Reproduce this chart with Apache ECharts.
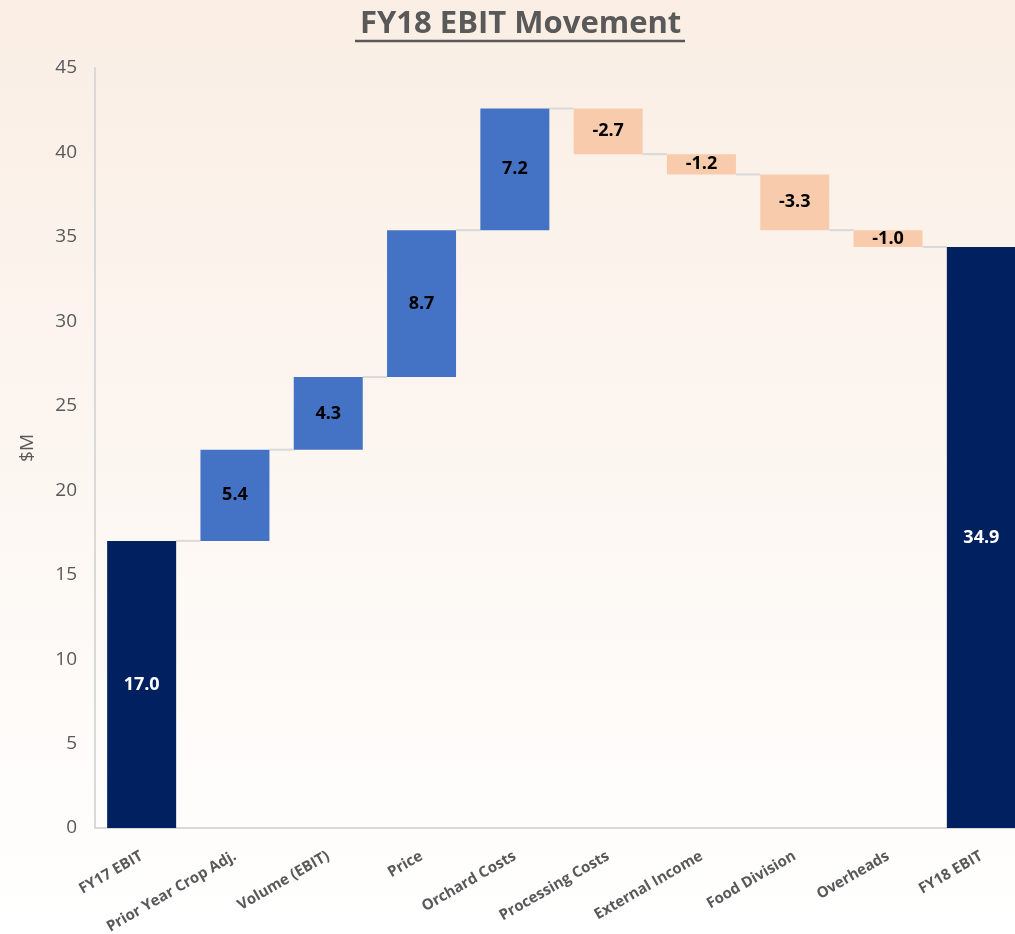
<!DOCTYPE html>
<html>
<head>
<meta charset="utf-8">
<script src="https://cdn.jsdelivr.net/npm/echarts@6/dist/echarts.min.js"></script>
<style>
  html, body { margin: 0; padding: 0; }
  #chart { width: 1015px; height: 934px; }
</style>
</head>
<body>
<div id="chart"></div>
<script>
// categories and movements ($M)
const categories = ['FY17 EBIT', 'Prior Year Crop Adj.', 'Volume (EBIT)', 'Price', 'Orchard Costs',
  'Processing Costs', 'External Income', 'Food Division', 'Overheads', 'FY18 EBIT']
const startTotal = 17.0
const movements = [5.4, 4.3, 8.7, 7.2, -2.7, -1.2, -3.3, -1.0]
const endTotal = 34.4
const labelTexts = ['17.0', '5.4', '4.3', '8.7', '7.2', '-2.7', '-1.2', '-3.3', '-1.0', '34.9']
const yTicks = { min: 0, max: 45, interval: 5 }

const colors = {
  total: '#002060',
  up: '#4472C4',
  down: '#F8CBAD'
}

// build invisible bases + visible bars
const base = [0]
const shown = [startTotal]
const barColors = [colors.total]
const levels = [startTotal] // running total after each bar
let run = startTotal
movements.forEach(m => {
  const next = run + m
  base.push(Math.min(run, next))
  shown.push(Math.abs(m))
  barColors.push(m >= 0 ? colors.up : colors.down)
  run = next
  levels.push(run)
})
base.push(0)
shown.push(endTotal)
barColors.push(colors.total)

// connectors: from bar i to bar i+1 at the running level
const connectors = []
for (let i = 0; i < categories.length - 1; i++) {
  connectors.push([i, levels[i]])
}

const chart = echarts.init(document.getElementById('chart'))
const BAR_W = 69

chart.setOption({
  backgroundColor: {
    type: 'linear', x: 0, y: 0, x2: 0, y2: 1,
    colorStops: [
      { offset: 0, color: '#FAEEE4' },
      { offset: 1, color: '#FFFFFF' }
    ]
  },
  animation: false,
  title: {
    text: 'FY18 EBIT Movement',
    left: 355,
    top: 4,
    textStyle: { fontFamily: 'Open Sans', fontSize: 31, fontWeight: 'bold', color: '#595959' }
  },
  graphic: [{
    type: 'line',
    shape: { x1: 355, y1: 41, x2: 685, y2: 41 },
    style: { stroke: '#595959', lineWidth: 2.5 }
  }],
  grid: { left: 95, top: 68, width: 933, height: 760, outerBoundsMode: 'none', containLabel: false },
  xAxis: {
    type: 'category',
    data: categories,
    axisLine: { lineStyle: { color: '#D9D9D9', width: 2 } },
    axisTick: { show: false },
    axisLabel: {
      interval: 0, rotate: 30, margin: 27,
      fontFamily: 'Open Sans', fontSize: 15, fontWeight: 'bold', color: '#595959'
    }
  },
  yAxis: {
    type: 'value',
    min: yTicks.min, max: yTicks.max, interval: yTicks.interval,
    name: '$M',
    nameLocation: 'middle',
    nameGap: 58,
    nameTextStyle: { fontFamily: 'Open Sans', fontSize: 19, color: '#595959' },
    axisLine: { show: true, lineStyle: { color: '#D9D9D9', width: 2 } },
    axisTick: { show: false },
    splitLine: { show: false },
    axisLabel: { fontFamily: 'Open Sans', fontSize: 19, color: '#595959', margin: 18 }
  },
  series: [
    {
      type: 'bar',
      stack: 'wf',
      barWidth: BAR_W,
      itemStyle: { color: 'transparent' },
      data: base,
      silent: true
    },
    {
      type: 'bar',
      stack: 'wf',
      barWidth: BAR_W,
      data: shown.map((v, i) => ({
        value: v,
        itemStyle: { color: barColors[i] },
        label: { color: barColors[i] === colors.total ? '#FFFFFF' : '#000000' }
      })),
      label: {
        show: true,
        position: 'inside',
        fontFamily: 'Open Sans',
        fontSize: 18,
        fontWeight: 'bold',
        formatter: p => labelTexts[p.dataIndex]
      }
    },
    {
      type: 'custom',
      silent: true,
      data: connectors,
      renderItem: (params, api) => {
        const i = api.value(0)
        const lvl = api.value(1)
        const a = api.coord([i, lvl])
        const b = api.coord([i + 1, lvl])
        return {
          type: 'line',
          shape: { x1: a[0] + BAR_W / 2, y1: a[1], x2: b[0] - BAR_W / 2, y2: b[1] },
          style: { stroke: '#D9D9D9', lineWidth: 2 }
        }
      }
    }
  ]
})
</script>
</body>
</html>
